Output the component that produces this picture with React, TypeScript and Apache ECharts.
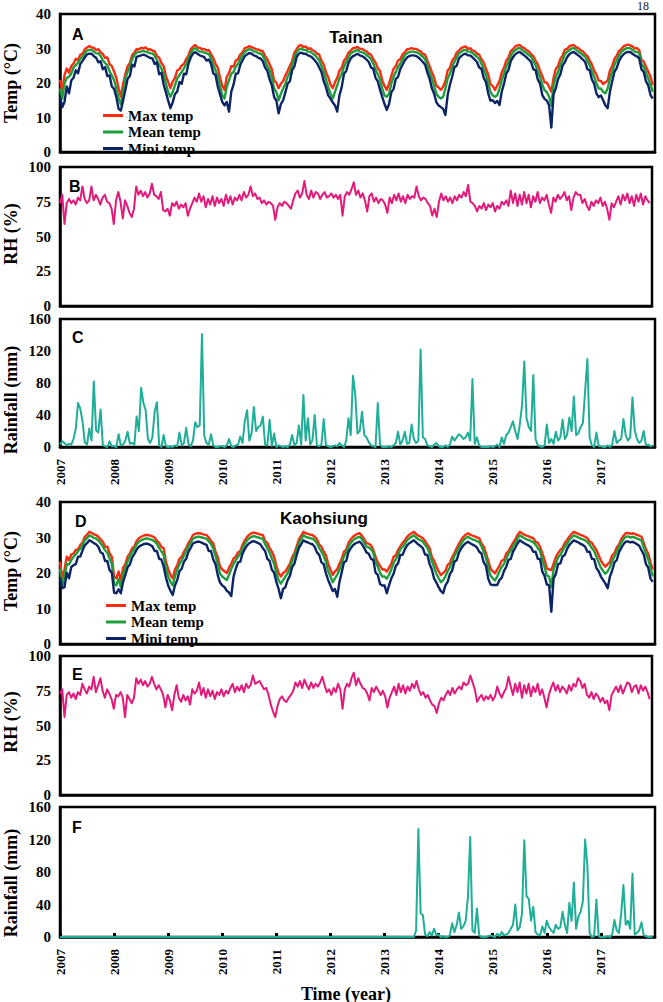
import React, { useEffect, useRef } from "react";
import * as echarts from "echarts";

// Semi-monthly samples (24 per year), January 2007 through December 2017.
const START_YEAR = 2007;
const SAMPLES_PER_YEAR = 24;
const YEAR_TICKS = [2007, 2008, 2009, 2010, 2011, 2012, 2013, 2014, 2015, 2016, 2017];

// ---- Tainan ----
const tainanMax = [
  20.9, 17.5, 22.3, 24.2, 23.0, 24.9, 25.6, 27.0, 26.6, 28.2, 28.4, 29.8, 30.3, 30.7, 30.3, 30.2, 29.5, 29.8, 28.9, 28.4, 27.3, 27.4, 25.5, 24.9,
  23.3, 21.5, 18.4, 16.0, 19.8, 22.6, 24.9, 25.8, 28.1, 28.8, 29.9, 29.7, 30.2, 30.0, 30.3, 29.7, 29.8, 29.4, 29.2, 27.8, 27.3, 25.8, 24.9, 22.0,
  20.3, 18.5, 20.4, 21.5, 23.6, 24.0, 25.1, 25.5, 27.0, 27.9, 29.8, 30.5, 31.0, 30.3, 30.2, 29.8, 29.9, 29.4, 29.6, 28.4, 27.3, 25.5, 24.5, 21.6,
  19.2, 18.0, 21.8, 22.9, 24.9, 24.8, 26.5, 26.9, 28.3, 28.9, 30.1, 30.3, 30.7, 30.4, 30.1, 29.8, 29.7, 29.4, 29.2, 27.8, 26.9, 25.4, 24.0, 20.7,
  20.1, 18.5, 19.8, 20.6, 22.2, 23.5, 25.0, 26.4, 28.8, 29.8, 30.8, 31.0, 30.4, 30.6, 29.9, 30.1, 29.5, 29.2, 28.5, 28.2, 26.5, 25.4, 23.1, 21.6,
  19.6, 18.5, 20.2, 21.5, 23.6, 24.4, 26.5, 27.3, 28.8, 29.4, 30.1, 30.2, 30.5, 29.9, 29.9, 29.5, 29.2, 28.5, 28.2, 26.9, 25.9, 24.3, 23.5, 20.7,
  19.1, 18.0, 19.8, 22.0, 24.1, 24.9, 26.5, 26.9, 28.3, 28.9, 29.8, 29.9, 30.1, 29.9, 29.9, 29.5, 29.2, 28.4, 28.2, 26.5, 24.9, 23.1, 21.6, 19.2,
  18.7, 18.0, 18.9, 20.6, 23.6, 24.4, 26.5, 27.3, 28.8, 29.4, 30.1, 30.4, 30.6, 29.9, 30.1, 29.4, 29.3, 28.5, 28.2, 26.9, 25.9, 24.1, 22.5, 19.7,
  19.1, 18.0, 19.3, 20.6, 23.1, 24.4, 26.5, 27.4, 29.3, 29.8, 30.6, 30.9, 31.0, 30.4, 30.1, 29.5, 29.2, 28.4, 27.8, 26.5, 25.4, 23.6, 22.0, 20.2,
  20.1, 18.9, 17.5, 21.5, 24.1, 24.9, 27.0, 27.9, 29.7, 29.9, 30.6, 30.9, 31.0, 30.4, 30.1, 29.5, 29.2, 28.4, 27.8, 26.5, 25.4, 23.6, 22.5, 20.7,
  20.6, 19.7, 20.2, 20.7, 23.6, 24.9, 27.0, 27.9, 29.3, 29.8, 30.6, 30.9, 31.1, 30.9, 30.6, 30.0, 30.1, 29.5, 26.7, 26.2, 24.7, 23.3, 21.8, 19.4,
];
const tainanMean = [
  18.4, 15.5, 19.8, 21.5, 21.8, 22.7, 24.5, 25.2, 25.8, 27.0, 27.6, 28.6, 29.4, 29.6, 29.6, 29.1, 28.6, 28.6, 27.9, 26.6, 25.8, 25.1, 23.4, 22.2,
  20.8, 18.4, 15.5, 13.8, 17.4, 21.3, 23.2, 24.7, 26.9, 28.1, 28.8, 29.0, 29.1, 29.3, 29.1, 28.9, 28.6, 28.6, 27.9, 26.6, 25.3, 24.2, 22.4, 19.8,
  17.4, 16.0, 17.4, 19.3, 21.3, 22.3, 23.2, 24.2, 25.5, 27.1, 28.6, 29.7, 30.1, 29.6, 29.1, 29.1, 28.8, 28.6, 28.4, 27.1, 25.3, 23.7, 22.0, 19.3,
  16.4, 15.5, 18.9, 20.8, 22.7, 23.2, 24.7, 25.6, 26.9, 28.1, 29.0, 29.5, 29.8, 29.6, 29.1, 29.1, 28.6, 28.6, 27.9, 26.6, 24.9, 23.7, 21.5, 18.4,
  17.4, 15.0, 16.9, 18.4, 19.8, 21.8, 23.2, 25.2, 27.4, 29.0, 29.7, 30.0, 29.6, 29.6, 29.1, 29.1, 28.6, 28.1, 27.4, 26.6, 24.9, 23.2, 21.0, 18.9,
  16.9, 15.5, 17.4, 19.3, 21.3, 22.7, 24.7, 26.1, 27.4, 28.6, 29.0, 29.3, 29.6, 29.1, 28.9, 28.7, 28.1, 27.6, 26.9, 25.6, 23.9, 22.5, 21.0, 18.4,
  16.4, 16.0, 16.9, 19.8, 21.8, 23.2, 24.7, 25.6, 26.9, 28.1, 28.6, 29.0, 29.1, 29.1, 28.9, 28.7, 28.1, 27.6, 26.9, 25.2, 22.9, 21.3, 19.1, 16.9,
  16.0, 15.5, 16.0, 18.4, 21.3, 22.7, 24.7, 26.1, 27.4, 28.6, 29.0, 29.5, 29.6, 29.1, 29.1, 28.7, 28.1, 27.6, 26.9, 25.6, 23.9, 22.3, 20.0, 17.4,
  16.4, 16.0, 16.4, 18.4, 20.8, 22.7, 24.7, 26.1, 27.9, 29.0, 29.5, 30.0, 30.1, 29.6, 29.1, 28.7, 28.1, 27.6, 26.4, 25.2, 23.4, 21.8, 19.5, 17.9,
  17.4, 16.0, 13.5, 19.3, 21.8, 23.2, 25.2, 26.6, 28.4, 29.0, 29.5, 30.0, 30.1, 29.6, 29.1, 28.7, 28.1, 27.6, 26.4, 25.2, 23.4, 21.8, 20.0, 18.4,
  18.4, 17.4, 17.0, 18.4, 21.3, 23.2, 25.2, 26.6, 27.9, 29.0, 29.5, 30.0, 30.1, 30.1, 29.6, 29.1, 29.0, 28.6, 25.5, 24.7, 23.0, 21.3, 19.5, 17.4,
];
const tainanMin = [
  15.9, 13.0, 14.5, 19.0, 17.0, 20.7, 21.5, 23.7, 22.8, 25.5, 26.4, 27.4, 28.3, 28.5, 28.5, 27.8, 27.3, 26.0, 26.3, 24.0, 24.6, 22.0, 22.2, 19.0,
  18.3, 15.9, 12.5, 12.0, 14.9, 18.0, 21.2, 22.0, 25.3, 24.8, 27.6, 27.8, 28.0, 28.2, 28.0, 27.6, 27.3, 27.1, 25.5, 26.0, 22.5, 23.0, 19.5, 17.3,
  14.9, 12.7, 14.4, 16.8, 17.5, 20.3, 19.8, 22.7, 22.5, 25.6, 27.4, 28.5, 29.0, 28.5, 28.0, 27.8, 27.5, 26.5, 26.8, 25.6, 22.8, 22.3, 19.0, 16.8,
  14.5, 13.5, 14.5, 11.7, 17.5, 19.5, 22.7, 22.8, 25.3, 26.6, 27.8, 28.3, 28.7, 28.5, 28.0, 27.8, 27.3, 27.1, 26.3, 24.5, 23.5, 21.0, 19.3, 15.9,
  14.9, 11.2, 13.9, 15.0, 17.3, 19.8, 20.5, 23.7, 24.8, 27.5, 28.5, 28.8, 28.5, 28.5, 28.0, 27.8, 27.3, 26.6, 25.8, 24.5, 23.2, 20.5, 18.8, 16.4,
  15.5, 14.4, 13.5, 11.7, 16.5, 18.8, 22.7, 23.5, 25.8, 27.1, 27.8, 28.1, 28.5, 28.0, 27.8, 27.4, 26.8, 26.1, 24.5, 24.1, 21.5, 20.5, 18.0, 15.9,
  13.9, 12.2, 13.9, 17.3, 18.3, 21.2, 21.8, 24.1, 25.3, 26.6, 27.4, 27.8, 28.0, 28.0, 27.8, 27.4, 26.8, 26.1, 25.3, 23.0, 21.2, 18.5, 16.9, 14.4,
  13.5, 13.0, 12.5, 10.7, 16.5, 19.5, 21.8, 24.6, 25.0, 27.1, 27.8, 28.3, 28.5, 28.0, 28.0, 27.4, 26.8, 26.1, 24.5, 24.1, 21.5, 20.3, 17.0, 14.9,
  15.0, 14.2, 14.8, 13.6, 17.5, 19.8, 22.7, 23.8, 26.3, 27.5, 28.3, 28.8, 29.0, 28.5, 28.0, 27.4, 26.8, 26.1, 24.0, 23.7, 21.0, 19.8, 16.5, 15.4,
  14.9, 13.5, 7.1, 16.8, 18.5, 21.2, 22.5, 25.1, 26.0, 27.5, 28.3, 28.8, 29.0, 28.5, 28.0, 27.4, 26.8, 26.1, 24.0, 23.7, 21.0, 19.8, 17.0, 15.9,
  16.4, 15.0, 13.5, 12.7, 17.5, 20.5, 23.2, 24.3, 26.3, 27.5, 28.3, 28.8, 29.0, 29.0, 28.5, 28.0, 27.7, 27.1, 23.9, 23.2, 20.5, 19.3, 16.5, 15.5,
];
const tainanRH = [
  74, 80, 59, 74, 77, 74, 76, 73, 78, 76, 86, 77, 74, 76, 86, 76, 80, 77, 73, 78, 80, 75, 74, 70,
  59, 76, 82, 75, 63, 76, 72, 67, 64, 70, 86, 80, 83, 79, 82, 78, 81, 88, 80, 79, 77, 82, 69, 68,
  70, 65, 74, 72, 75, 70, 73, 71, 74, 65, 70, 74, 78, 75, 81, 75, 79, 71, 77, 73, 79, 72, 78, 74,
  77, 72, 80, 74, 79, 73, 78, 76, 80, 76, 82, 78, 80, 86, 79, 81, 77, 78, 74, 76, 73, 75, 74, 72,
  62, 71, 74, 72, 75, 74, 72, 70, 76, 81, 83, 78, 81, 90, 80, 77, 83, 78, 82, 81, 77, 80, 82, 78,
  79, 81, 78, 80, 77, 80, 65, 79, 82, 80, 84, 89, 80, 83, 78, 81, 76, 68, 79, 81, 75, 78, 74, 77,
  76, 73, 67, 78, 74, 80, 76, 81, 75, 79, 74, 80, 77, 79, 78, 86, 79, 76, 78, 77, 74, 72, 65, 70,
  64, 75, 81, 76, 79, 75, 78, 74, 79, 76, 80, 78, 82, 79, 87, 75, 74, 72, 68, 72, 70, 74, 69, 73,
  71, 74, 68, 72, 70, 75, 73, 76, 72, 83, 74, 81, 72, 80, 73, 82, 74, 80, 71, 79, 75, 82, 74, 78,
  76, 80, 73, 67, 78, 75, 80, 77, 79, 82, 76, 79, 69, 78, 82, 80, 80, 74, 77, 72, 69, 75, 72, 76,
  74, 78, 72, 75, 70, 62, 74, 71, 75, 79, 73, 80, 76, 81, 74, 79, 72, 80, 75, 81, 73, 79, 76, 74,
];
const tainanRain = [
  3, 7, 5, 2, 4, 3, 10, 23, 55, 48, 32, 6, 3, 23, 8, 82, 21, 18, 47, 2, 1, 0, 7, 1,
  1, 0, 16, 2, 3, 8, 19, 4, 5, 3, 38, 20, 74, 55, 46, 10, 5, 12, 44, 56, 2, 0, 15, 1,
  0, 1, 0, 2, 1, 18, 2, 5, 24, 4, 1, 8, 31, 25, 27, 141, 14, 5, 3, 16, 2, 0, 0, 1,
  1, 0, 2, 10, 1, 0, 2, 3, 13, 5, 32, 46, 8, 17, 50, 20, 25, 27, 38, 3, 2, 34, 1, 17,
  0, 2, 1, 0, 1, 0, 3, 15, 2, 5, 27, 3, 65, 8, 36, 3, 8, 40, 2, 1, 3, 35, 2, 1,
  0, 1, 2, 1, 5, 2, 0, 8, 36, 15, 89, 66, 17, 20, 44, 15, 12, 6, 2, 1, 0, 55, 3, 0,
  0, 0, 1, 0, 2, 5, 19, 3, 8, 19, 4, 5, 28, 10, 5, 8, 122, 12, 10, 2, 1, 0, 3, 5,
  1, 0, 0, 2, 0, 3, 13, 8, 12, 16, 14, 10, 12, 18, 8, 85, 4, 12, 2, 0, 0, 0, 0, 1,
  0, 1, 3, 0, 12, 4, 15, 18, 25, 32, 20, 10, 28, 52, 107, 36, 25, 20, 90, 10, 2, 1, 0, 2,
  28, 5, 10, 4, 19, 8, 12, 34, 10, 15, 37, 20, 63, 15, 17, 25, 30, 70, 110, 12, 2, 0, 18, 1,
  1, 0, 0, 2, 0, 3, 20, 5, 8, 10, 35, 15, 8, 12, 62, 21, 10, 5, 8, 20, 2, 3, 1, 2,
];

// ---- Kaohsiung ----
const kaohMax = [
  23.2, 18.5, 21.0, 24.6, 23.6, 25.2, 25.5, 26.5, 26.7, 27.9, 28.5, 30.2, 30.8, 31.6, 31.3, 30.9, 30.7, 30.2, 29.5, 28.8, 27.4, 27.4, 25.5, 24.6,
  19.0, 18.5, 20.4, 18.0, 21.5, 22.5, 24.6, 25.5, 27.0, 27.5, 29.0, 29.8, 30.2, 30.5, 30.7, 30.7, 30.5, 30.3, 30.0, 29.0, 28.5, 27.3, 27.0, 23.2,
  21.0, 19.5, 18.5, 21.0, 22.2, 24.0, 24.6, 26.0, 27.0, 28.5, 29.5, 30.7, 31.0, 31.2, 31.2, 31.0, 30.8, 30.7, 30.0, 29.0, 28.4, 26.0, 24.5, 21.8,
  21.0, 20.5, 20.0, 21.5, 22.6, 24.1, 24.6, 25.8, 26.2, 28.0, 29.2, 30.2, 30.8, 31.2, 31.4, 31.2, 31.0, 30.8, 30.7, 29.0, 28.5, 27.0, 26.0, 24.6,
  22.0, 20.0, 19.0, 20.0, 20.4, 21.5, 22.6, 24.5, 25.6, 27.5, 29.5, 30.5, 31.6, 31.2, 31.0, 30.8, 30.7, 30.2, 29.5, 28.0, 27.5, 26.0, 25.0, 22.5,
  21.0, 19.4, 20.5, 21.0, 22.7, 24.0, 26.0, 26.6, 28.5, 29.5, 30.2, 30.7, 31.0, 31.2, 30.5, 29.5, 28.4, 28.2, 27.8, 26.5, 24.6, 23.0, 22.0, 21.0,
  21.0, 20.4, 21.5, 22.6, 24.6, 25.0, 26.5, 27.5, 28.5, 29.2, 30.2, 30.8, 31.2, 31.6, 31.0, 30.5, 30.2, 29.8, 29.0, 28.0, 27.0, 24.5, 23.5, 21.8,
  20.5, 19.4, 20.0, 20.6, 22.3, 22.8, 24.5, 25.6, 27.0, 28.2, 29.3, 30.2, 30.8, 31.2, 30.8, 30.5, 30.3, 30.0, 29.8, 28.3, 27.5, 25.5, 23.5, 21.3,
  20.5, 19.9, 21.0, 22.0, 23.5, 23.7, 25.5, 26.1, 27.4, 28.5, 29.5, 30.7, 31.6, 31.2, 30.8, 30.5, 30.3, 30.0, 29.8, 28.8, 28.5, 27.4, 25.5, 23.7,
  21.3, 21.0, 20.8, 22.6, 24.5, 25.6, 26.5, 27.1, 28.5, 29.3, 30.3, 31.0, 31.6, 31.3, 31.0, 30.7, 30.5, 30.2, 29.8, 28.8, 28.5, 27.4, 26.5, 25.0,
  23.5, 22.5, 21.8, 22.5, 23.1, 25.0, 25.6, 27.2, 28.0, 29.5, 30.5, 31.2, 31.3, 31.0, 31.2, 31.0, 30.7, 30.5, 30.2, 28.5, 26.6, 25.5, 23.0, 21.0,
];
const kaohMean = [
  21.2, 16.5, 19.0, 22.6, 22.4, 23.6, 24.6, 25.3, 26.1, 26.9, 27.8, 29.2, 29.8, 30.6, 30.3, 29.9, 29.7, 29.2, 28.4, 27.5, 26.4, 25.7, 24.1, 22.6,
  17.0, 16.5, 18.4, 16.0, 19.7, 21.4, 23.2, 24.8, 25.9, 26.9, 28.0, 28.8, 29.2, 29.5, 29.7, 29.7, 29.5, 29.3, 28.9, 28.2, 27.0, 26.1, 25.1, 21.2,
  19.0, 17.5, 16.5, 19.0, 20.9, 22.4, 23.6, 24.8, 26.3, 27.5, 28.5, 29.7, 30.0, 30.2, 30.2, 30.0, 29.8, 29.7, 28.9, 28.2, 26.9, 24.8, 22.6, 19.8,
  19.0, 18.5, 18.0, 19.5, 21.2, 22.5, 23.6, 24.6, 25.4, 27.0, 28.2, 29.2, 29.8, 30.2, 30.4, 30.2, 30.0, 29.8, 29.6, 28.2, 27.0, 25.7, 24.1, 22.6,
  20.0, 18.0, 17.0, 18.0, 19.0, 19.9, 21.6, 23.3, 24.9, 26.5, 28.5, 29.5, 30.6, 30.2, 30.0, 29.8, 29.7, 29.2, 28.4, 27.1, 26.0, 24.8, 23.1, 20.5,
  19.0, 17.4, 18.5, 19.5, 20.9, 22.9, 24.6, 25.8, 27.4, 28.5, 29.2, 29.7, 30.0, 30.2, 29.5, 28.5, 27.4, 27.2, 26.7, 25.7, 23.1, 21.8, 20.1, 19.0,
  19.0, 18.4, 19.5, 21.0, 22.8, 23.9, 25.1, 26.7, 27.4, 28.2, 29.2, 29.8, 30.2, 30.6, 30.0, 29.5, 29.2, 28.8, 27.9, 27.1, 25.5, 23.3, 21.6, 19.8,
  18.5, 17.4, 18.0, 19.0, 20.5, 21.6, 23.1, 24.8, 25.9, 27.2, 28.3, 29.2, 29.8, 30.2, 29.8, 29.5, 29.3, 29.0, 28.7, 27.5, 26.0, 24.3, 21.6, 19.3,
  18.5, 17.9, 19.0, 20.5, 21.7, 22.5, 24.1, 25.3, 26.3, 27.5, 28.5, 29.7, 30.6, 30.2, 29.8, 29.5, 29.3, 29.0, 28.7, 28.0, 27.0, 26.2, 23.6, 21.7,
  19.3, 19.0, 16.0, 21.0, 22.7, 24.4, 25.1, 26.3, 27.4, 28.3, 29.3, 30.0, 30.6, 30.3, 30.0, 29.7, 29.5, 29.2, 28.7, 28.0, 27.0, 26.2, 24.6, 23.0,
  21.5, 20.5, 19.8, 20.5, 21.7, 23.4, 24.6, 26.0, 27.3, 28.5, 29.5, 30.2, 30.3, 30.0, 30.2, 30.0, 29.7, 29.5, 29.1, 27.2, 25.5, 23.8, 21.6, 19.0,
];
const kaohMin = [
  18.7, 15.7, 16.0, 20.1, 18.5, 21.7, 22.2, 22.5, 24.6, 24.6, 26.4, 27.8, 28.4, 29.2, 28.9, 28.4, 28.1, 27.4, 25.8, 25.5, 23.4, 23.4, 20.8, 20.1,
  14.5, 14.3, 15.4, 14.3, 17.5, 19.5, 21.6, 22.4, 24.4, 25.4, 26.6, 27.4, 27.8, 28.1, 28.3, 28.2, 27.9, 27.5, 26.2, 26.2, 24.0, 23.8, 21.8, 18.7,
  16.5, 15.0, 13.8, 16.5, 18.0, 20.5, 21.2, 23.2, 24.0, 26.0, 27.1, 28.3, 28.6, 28.8, 28.8, 28.5, 28.2, 27.9, 26.2, 26.2, 23.8, 22.5, 19.4, 17.3,
  16.5, 16.0, 15.0, 14.5, 13.5, 19.0, 21.2, 23.0, 23.2, 25.5, 26.8, 27.8, 28.4, 28.8, 29.0, 28.7, 28.4, 28.0, 27.0, 26.2, 24.0, 23.4, 20.9, 20.1,
  17.5, 15.5, 12.9, 15.5, 16.0, 18.0, 19.2, 21.7, 22.6, 25.0, 27.1, 28.1, 29.2, 28.8, 28.6, 28.3, 28.1, 27.4, 25.8, 25.1, 23.0, 22.5, 19.9, 18.0,
  16.5, 14.9, 15.5, 13.3, 17.5, 20.2, 23.0, 23.4, 25.9, 27.0, 27.8, 28.3, 28.6, 28.8, 28.1, 27.0, 25.8, 25.4, 24.0, 23.7, 20.1, 19.5, 16.9, 16.5,
  16.5, 14.3, 16.5, 18.5, 19.8, 22.0, 22.7, 25.1, 25.1, 26.7, 27.8, 28.4, 28.8, 29.2, 28.6, 28.0, 27.6, 27.0, 25.2, 25.1, 22.5, 21.0, 18.4, 17.3,
  16.0, 14.9, 14.3, 16.5, 17.5, 19.7, 20.7, 23.2, 23.6, 25.7, 26.9, 27.8, 28.4, 28.8, 28.4, 28.0, 27.7, 27.2, 26.0, 25.5, 23.0, 22.0, 18.4, 16.8,
  16.6, 16.6, 16.6, 18.0, 18.7, 20.6, 21.7, 23.7, 24.0, 26.0, 27.1, 28.3, 29.2, 28.8, 28.4, 28.0, 27.7, 27.2, 26.0, 26.0, 24.0, 23.9, 20.4, 19.2,
  16.8, 16.5, 9.1, 18.5, 19.7, 22.5, 22.7, 24.7, 25.1, 26.8, 27.9, 28.6, 29.2, 28.9, 28.6, 28.2, 27.9, 27.4, 26.0, 26.0, 24.0, 23.9, 21.4, 20.5,
  19.0, 18.0, 17.0, 15.7, 19.0, 20.7, 23.0, 23.6, 25.8, 27.0, 28.1, 28.8, 28.9, 28.6, 28.8, 28.5, 28.1, 27.7, 26.4, 25.2, 22.5, 21.5, 18.4, 17.5,
];
const kaohRH = [
  73, 76, 56, 72, 74, 70, 73, 69, 74, 72, 80, 76, 73, 78, 76, 85, 74, 79, 84, 75, 70, 76, 73, 69,
  62, 72, 71, 74, 70, 56, 72, 69, 66, 70, 84, 80, 83, 79, 82, 78, 80, 85, 80, 76, 79, 76, 72, 63,
  72, 68, 61, 72, 79, 70, 67, 72, 68, 71, 65, 76, 73, 75, 81, 72, 77, 70, 76, 71, 75, 69, 74, 72,
  76, 71, 75, 73, 77, 80, 74, 78, 75, 79, 74, 80, 77, 79, 86, 80, 81, 82, 79, 76, 77, 72, 65, 60,
  56, 64, 69, 71, 68, 67, 70, 72, 75, 81, 78, 82, 77, 83, 79, 76, 81, 77, 80, 78, 81, 85, 79, 74,
  76, 72, 77, 74, 80, 76, 62, 76, 80, 78, 84, 88, 79, 84, 80, 77, 76, 73, 68, 77, 74, 78, 75, 72,
  75, 71, 63, 70, 74, 78, 72, 80, 74, 79, 73, 78, 75, 80, 77, 82, 76, 72, 74, 70, 72, 68, 65, 64,
  59, 66, 70, 68, 72, 75, 72, 77, 73, 76, 78, 76, 81, 79, 80, 86, 81, 76, 67, 70, 72, 68, 71, 69,
  72, 68, 71, 78, 73, 70, 74, 77, 85, 78, 72, 80, 74, 81, 70, 79, 73, 80, 71, 78, 74, 80, 72, 76,
  70, 63, 72, 77, 81, 75, 79, 74, 78, 76, 73, 79, 75, 80, 78, 84, 82, 77, 80, 72, 70, 74, 69, 73,
  71, 67, 70, 66, 68, 61, 72, 75, 78, 74, 79, 73, 77, 81, 80, 74, 78, 79, 73, 79, 75, 78, 74, 69,
];
const kaohRain = [
  0, 0, 0, 0, 0, 0, 0, 0, 0, 0, 0, 0, 0, 0, 0, 0, 0, 0, 0, 0, 0, 0, 0, 0,
  0, 0, 0, 0, 0, 0, 0, 0, 0, 0, 0, 0, 0, 0, 0, 0, 0, 0, 0, 0, 0, 0, 0, 0,
  0, 0, 0, 0, 0, 0, 0, 0, 0, 0, 0, 0, 0, 0, 0, 0, 0, 0, 0, 0, 0, 0, 0, 0,
  0, 0, 0, 0, 0, 0, 0, 0, 0, 0, 0, 0, 0, 0, 0, 0, 0, 0, 0, 0, 0, 0, 0, 0,
  0, 0, 0, 0, 0, 0, 0, 0, 0, 0, 0, 0, 0, 0, 0, 0, 0, 0, 0, 0, 0, 0, 0, 0,
  0, 0, 0, 0, 0, 0, 0, 0, 0, 0, 0, 0, 0, 0, 0, 0, 0, 0, 0, 0, 0, 0, 0, 0,
  0, 0, 0, 0, 0, 0, 0, 0, 0, 0, 0, 0, 0, 0, 8, 133, 29, 27, 3, 1, 6, 2, 10, 2,
  3, 0, 1, 0, 0, 2, 17, 6, 15, 30, 10, 13, 20, 49, 123, 8, 5, 35, 2, 0, 0, 0, 1, 2,
  1, 0, 4, 1, 6, 2, 3, 5, 10, 15, 40, 8, 12, 29, 119, 50, 47, 20, 37, 6, 3, 2, 13, 5,
  20, 12, 8, 5, 15, 10, 12, 31, 15, 5, 42, 20, 67, 10, 25, 31, 44, 120, 88, 5, 0, 1, 46, 1,
  0, 0, 0, 1, 0, 3, 21, 8, 5, 29, 64, 15, 20, 10, 78, 3, 5, 8, 18, 2, 1, 0, 0, 1,
];

const SERIF = '"Liberation Serif", "Times New Roman", serif';
const SANS = '"Liberation Sans", Arial, sans-serif';
const RED = "#fb2b10";
const GREEN = "#1c9f3a";
const NAVY = "#0c2466";
const PINK = "#e3197b";
const TEAL = "#1fae97";

// Pair each sample with its decimal-year time stamp.
const toSeries = (values: number[]) =>
  values.map((v, i) => [START_YEAR + i / SAMPLES_PER_YEAR, v]);

// Layout of the six stacked panels (A–F).
const panels = [
  { top: 14, height: 138, right: 8, max: 40, step: 10, years: false, ticks: false },
  { top: 167, height: 139, right: 11, max: 100, step: 25, years: false, ticks: false },
  { top: 319, height: 128, right: 8, max: 160, step: 40, years: true, ticks: false },
  { top: 502, height: 142, right: 8, max: 40, step: 10, years: false, ticks: false },
  { top: 656, height: 139, right: 11, max: 100, step: 25, years: false, ticks: false },
  { top: 807, height: 130, right: 8, max: 160, step: 40, years: true, ticks: true },
];

function lineSeries(name: string, values: number[], panel: number, color: string, width: number) {
  return {
    type: "line",
    name,
    xAxisIndex: panel,
    yAxisIndex: panel,
    data: toSeries(values),
    showSymbol: false,
    symbol: "none",
    lineStyle: { color, width, join: "round" },
    itemStyle: { color },
    silent: true,
  };
}

function legendFor(left: number, top: number) {
  return {
    data: ["Max temp", "Mean temp", "Mini temp"],
    orient: "vertical",
    left,
    top,
    padding: 0,
    itemWidth: 20,
    itemHeight: 3,
    itemGap: 1.5,
    icon: "rect",
    selectedMode: false,
    textStyle: { fontFamily: SERIF, fontWeight: "bold", fontSize: 15, lineHeight: 15, color: "#000" },
  };
}

function label(text: string, x: number, y: number, size: number, family: string, align = "left") {
  return {
    type: "text",
    x,
    y,
    z: 100,
    style: {
      text,
      fill: "#000",
      fontFamily: family,
      fontWeight: "bold",
      fontSize: size,
      align,
      verticalAlign: "middle",
    },
  };
}

function verticalText(text: string, x: number, y: number, size: number) {
  return {
    type: "text",
    x,
    y,
    rotation: Math.PI / 2,
    z: 100,
    style: {
      text,
      fill: "#000",
      fontFamily: SERIF,
      fontWeight: "bold",
      fontSize: size,
      align: "center",
      verticalAlign: "middle",
    },
  };
}

export default function App() {
  const ref = useRef<HTMLDivElement>(null);

  useEffect(() => {
    if (!ref.current) return;
    const chart = echarts.init(ref.current, undefined, { renderer: "svg" });

    const grid = panels.map((p) => ({
      left: 60,
      right: p.right,
      top: p.top,
      height: p.height,
      show: true,
      borderColor: "#000",
      borderWidth: 2.5,
      backgroundColor: "transparent",
    }));

    const xAxis = panels.map((p, i) => ({
      type: "value",
      gridIndex: i,
      min: 2007,
      max: 2018,
      interval: 1,
      axisLine: { show: true, onZero: false, lineStyle: { color: "#000", width: 2.5 } },
      axisTick: { show: p.ticks, inside: true, length: 4, lineStyle: { color: "#000", width: 3 } },
      axisLabel: {
        show: p.years,
        rotate: 90,
        margin: 12,
        fontFamily: SERIF,
        fontWeight: "bold",
        fontSize: 13,
        color: "#000",
        showMaxLabel: false,
        formatter: (v: number) => (YEAR_TICKS.includes(v) ? String(v) : ""),
      },
      splitLine: { show: false },
    }));

    const yAxis = panels.map((p, i) => ({
      type: "value",
      gridIndex: i,
      min: 0,
      max: p.max,
      interval: p.step,
      axisLine: { show: true, lineStyle: { color: "#000", width: 2.5 } },
      axisTick: { show: false },
      axisLabel: {
        margin: 9,
        fontFamily: SERIF,
        fontWeight: "bold",
        fontSize: 15,
        color: "#000",
      },
      splitLine: { show: false },
    }));

    const series = [
      lineSeries("Max temp", tainanMax, 0, RED, 2.4),
      lineSeries("Mean temp", tainanMean, 0, GREEN, 2.4),
      lineSeries("Mini temp", tainanMin, 0, NAVY, 2.4),
      lineSeries("RH", tainanRH, 1, PINK, 2),
      lineSeries("Rainfall", tainanRain, 2, TEAL, 2),
      lineSeries("Max temp", kaohMax, 3, RED, 2.4),
      lineSeries("Mean temp", kaohMean, 3, GREEN, 2.4),
      lineSeries("Mini temp", kaohMin, 3, NAVY, 2.4),
      lineSeries("RH", kaohRH, 4, PINK, 2),
      lineSeries("Rainfall", kaohRain, 5, TEAL, 2),
    ];

    const graphic: any[] = [
      {
        type: "text",
        x: 649,
        y: 6,
        style: { text: "18", fill: "#222", fontFamily: SERIF, fontSize: 12, align: "right", verticalAlign: "middle" },
      },
      label("A", 72, 34, 16, SANS),
      label("Tainan", 356, 37, 17, SANS, "center"),
      label("B", 69, 186, 16, SANS),
      label("C", 72, 337, 16, SANS),
      label("D", 75, 521, 16, SANS),
      label("Kaohsiung", 324, 518, 17, SANS, "center"),
      label("E", 72, 674, 16, SANS),
      label("F", 72, 827, 16, SANS),
      verticalText("Temp (°C)", 11, 83, 18),
      verticalText("RH (%)", 11, 234, 18),
      verticalText("Rainfall (mm)", 11, 400, 18),
      verticalText("Temp (°C)", 11, 571, 18),
      verticalText("RH (%)", 11, 722, 18),
      verticalText("Rainfall (mm)", 11, 883, 18),
      label("Time (year)", 346, 994, 18, SERIF, "center"),
    ];

    chart.setOption({
      animation: false,
      backgroundColor: "#fff",
      grid,
      xAxis,
      yAxis,
      series,
      legend: [legendFor(103, 108), legendFor(106, 598)],
      graphic,
    });

    return () => chart.dispose();
  }, []);

  return (
    <div
      ref={ref}
      style={{ position: "absolute", left: 0, top: 0, width: 663, height: 1002, background: "#fff" }}
    />
  );
}
